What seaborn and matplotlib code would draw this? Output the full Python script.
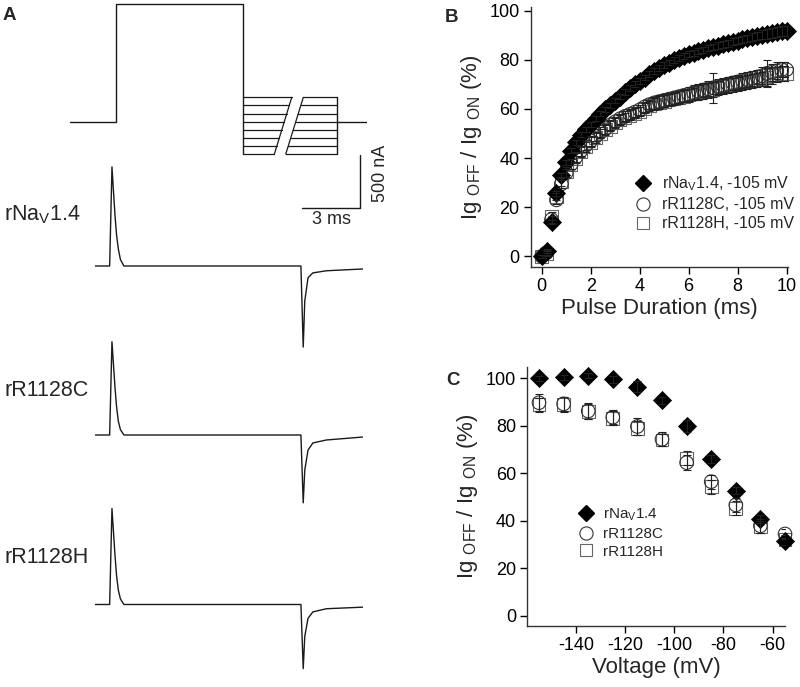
import numpy as np
import matplotlib
matplotlib.use('Agg')
import matplotlib.pyplot as plt
from matplotlib.lines import Line2D
import seaborn as sns

# ---------------- data ----------------
# panel A: voltage protocol (ms, mV)
proto_hold = -105
proto_step = 40
proto_t_on = 2.4
proto_t_off = 8.95
proto_t_end_test = 13.85
proto_t_end = 15.4
test_levels = [-75, -85, -95, -105, -115, -125, -135, -145]

# panel A: gating currents (ms, nA)
trace_t = [0, 0.76, 0.88, 0.96, 1.04, 1.12, 1.21, 1.32, 1.5, 10.68, 10.8, 10.88, 11.05, 11.3, 12.0, 13.9]
trace_wt = [0, 0, 935, 700, 470, 290, 160, 60, 0, 0, -765, -330, -110, -65, -45, -28]
trace_r1128c = [0, 0, 880, 660, 440, 265, 130, 50, 0, 0, -640, -330, -142, -75, -47, -19]
trace_r1128h = [0, 0, 905, 680, 455, 270, 135, 52, 0, 0, -605, -300, -130, -70, -40, -25]
trace_names = ['rNa$_{\\mathregular{V}}$1.4', 'rR1128C', 'rR1128H']

# panel B: Q recovery vs pulse duration
dur = [0.0, 0.2, 0.4, 0.6, 0.8, 1.0, 1.2, 1.4, 1.6, 1.8, 2.0, 2.2, 2.4, 2.6, 2.8, 3.0, 3.2, 3.4,
       3.6, 3.8, 4.0, 4.2, 4.4, 4.6, 4.8, 5.0, 5.2, 5.4, 5.6, 5.8, 6.0, 6.2, 6.4, 6.6, 6.8, 7.0,
       7.2, 7.4, 7.6, 7.8, 8.0, 8.2, 8.4, 8.6, 8.8, 9.0, 9.2, 9.4, 9.6, 9.8, 10.0]
b_wt = [0, 2.3, 14, 25.6, 33, 38.3, 43, 46.5, 49.5, 51.8, 53.8, 56, 58, 59.8, 61.5, 63.3, 65, 66.8,
        68.4, 70, 71.5, 72.8, 74.2, 75.5, 76.8, 78, 78.9, 79.8, 80.6, 81.4, 82.2, 82.8, 83.5, 84.1,
        84.7, 85.3, 85.8, 86.3, 86.8, 87.3, 87.8, 88.3, 88.8, 89.3, 89.8, 90.2, 90.6, 91, 91.3, 91.6, 91.8]
b_wt_err = [0.5, 0.8, 1, 1, 1, 1, 1, 1, 1, 1, 1, 1, 1, 1, 1, 1, 1, 1.2,
            1.2, 1.2, 1.2, 1.2, 1.2, 1.2, 1.2, 1.2, 1.2, 1.2, 1.2, 1.2, 1.2, 1.2, 1.3, 1.3,
            1.3, 1.3, 1.3, 1.4, 1.4, 1.4, 1.5, 1.5, 1.5, 1.5, 1.6, 1.8, 2, 2, 2, 2, 2]
b_r1128c = [0, 1.5, 15, 23, 29.5, 34, 37.5, 40.5, 43, 45.2, 47, 48.8, 50.5, 52, 53.5, 54.8, 56, 57,
            57.8, 58.7, 59.6, 60.8, 61.8, 62.5, 63, 63.5, 64, 64.5, 65, 65.5, 66, 66.6, 67.2, 67.7,
            68.2, 68.6, 69.1, 69.6, 70.1, 70.6, 71, 71.5, 72, 72.5, 73, 73.5, 74.5, 75, 75.5, 76, 76]
b_r1128c_err = [0.5, 1, 1.5, 1.5, 1.5, 1.5, 2, 2, 2, 2, 2, 2, 2, 2, 2, 2, 2, 2,
                2, 2, 2, 2, 2, 2.5, 2.5, 2.5, 2.5, 2.5, 2.5, 2.5, 3, 3, 3, 3, 3, 6,
                3, 3, 3, 3, 3, 3, 3, 3, 3, 3.5, 5.5, 3.5, 3.5, 3, 3]
b_r1128h = [0, 1, 16.4, 24.5, 30.5, 34.5, 37.5, 40, 42.5, 44.5, 46.5, 48.3, 50, 51.5, 53, 54.3, 55.5, 56.5,
            57.4, 58.2, 59, 60.3, 61.3, 62, 62.6, 63.2, 63.7, 64.2, 64.7, 65.2, 65.7, 66.2, 66.7, 67.2,
            67.6, 68, 68.5, 69, 69.4, 69.8, 70.2, 70.6, 71, 71.4, 71.8, 72.2, 73, 73.5, 74, 74.3, 74.5]
b_r1128h_err = [0.5, 1, 1.5, 1.5, 2, 2, 2, 2, 2, 2, 2, 2, 2, 2, 2, 2, 2, 2,
                2, 2, 2, 2, 2, 2.5, 2.5, 2.5, 2.5, 2.5, 2.5, 2.5, 2.5, 2.5, 3, 3, 3, 3,
                3, 3, 3, 3, 3, 3, 3, 3, 3, 3, 3.5, 3.5, 3, 3, 3]

# panel C: Q recovery vs voltage
volt = [-155, -145, -135, -125, -115, -105, -95, -85, -75, -65, -55]
c_wt = [100, 100.4, 101, 99.6, 96.5, 90.8, 80, 66, 52.6, 40.8, 31.5]
c_wt_err = [1, 1, 1, 1.5, 2.5, 1.5, 2.5, 1.5, 1.5, 1.5, 1.5]
c_r1128c = [89.7, 89.2, 86.2, 83.6, 79.7, 74.3, 64.5, 56.5, 46.7, 37.9, 34.5]
c_r1128c_err = [3.5, 3, 3.5, 3, 3.5, 3, 3, 3, 3, 3, 2]
c_r1128h = [88.8, 89, 86, 83.2, 79, 74, 66.3, 54.4, 45.3, 37.6, 32]
c_r1128h_err = [3, 3, 3, 3, 3, 2.5, 3, 3, 3, 2.5, 2]

series_labels_b = ['rNa$_{\\mathregular{V}}$1.4, -105 mV', 'rR1128C, -105 mV', 'rR1128H, -105 mV']
series_labels_c = ['rNa$_{\\mathregular{V}}$1.4', 'rR1128C', 'rR1128H']

# ---------------- style ----------------
sns.set_theme(style='ticks')
plt.rcParams['font.family'] = ['Liberation Sans', 'DejaVu Sans']
plt.rcParams['mathtext.fontset'] = 'custom'
plt.rcParams['mathtext.rm'] = 'Liberation Sans'
plt.rcParams['mathtext.it'] = 'Liberation Sans:italic'
plt.rcParams['mathtext.bf'] = 'Liberation Sans:bold'
plt.rcParams['axes.unicode_minus'] = False

W, H = 800, 687
fig = plt.figure(figsize=(W / 100, H / 100), dpi=100)


def px_axes(x0, y0, x1, y1):
    return fig.add_axes([x0 / W, 1 - y1 / H, (x1 - x0) / W, (y1 - y0) / H])


ink = '#1a1a1a'
diamond_kw = dict(marker='D', s=85, color='black', edgecolor='black', linewidth=0.5, zorder=4, clip_on=False)
circle_kw = dict(marker='o', s=95, facecolor='none', edgecolor='#333333', linewidth=0.8, zorder=3, clip_on=False)
square_kw = dict(marker='s', s=85, facecolor='none', edgecolor='#666666', linewidth=0.8, zorder=2, clip_on=False)
err_kw = dict(fmt='none', ecolor='#222222', elinewidth=0.8, capsize=3, capthick=0.8, zorder=5)

# ---------------- panel A: protocol ----------------
px_per_ms = 19.28
px_per_mV = 0.81
axp = px_axes(70, 0, 367, 160)
axp.set_xlim(0, 297 / px_per_ms)
axp.set_ylim(proto_hold - (160 - 121.7) / px_per_mV, proto_hold + 121.7 / px_per_mV)
axp.axis('off')
axp.plot([0, proto_t_on, proto_t_on, proto_t_off, proto_t_off],
         [proto_hold, proto_hold, proto_step, proto_step, min(test_levels)], color=ink, lw=1)
axp.plot([proto_t_end_test, proto_t_end_test], [min(test_levels), max(test_levels)], color=ink, lw=1)
axp.plot([proto_t_end_test, proto_t_end], [proto_hold, proto_hold], color=ink, lw=1)
# break marks (//) across the test-pulse family
brk_left = np.interp(test_levels, [min(test_levels), max(test_levels)], [10.6, 11.5])
brk_right = np.interp(test_levels, [min(test_levels), max(test_levels)], [11.19, 12.1])
for v, bl, br in zip(test_levels, brk_left, brk_right):
    axp.plot([proto_t_off, bl], [v, v], color=ink, lw=0.9)
    axp.plot([br, proto_t_end_test], [v, v], color=ink, lw=0.9)
axp.plot([10.6, 11.5], [min(test_levels), max(test_levels)], color=ink, lw=0.9)
axp.plot([11.19, 12.1], [min(test_levels), max(test_levels)], color=ink, lw=0.9)

# ---------------- panel A: traces ----------------
px_per_nA = 0.106
baselines_px = [266, 435, 604.5]
trace_axes = []
for base, cur in zip(baselines_px, [trace_wt, trace_r1128c, trace_r1128h]):
    ax = px_axes(95, base - 115, 363, base + 90)
    sns.lineplot(x=trace_t, y=cur, ax=ax, color=ink, lw=1.0, estimator=None, sort=False)
    ax.set_xlim(0, 268 / px_per_ms)
    ax.set_ylim(-90 / px_per_nA, 115 / px_per_nA)
    ax.axis('off')
    trace_axes.append(ax)

# scale bar: 3 ms / 500 nA
axs = trace_axes[0]
bar_t0, bar_ms, bar_nA0, bar_nA = 10.75, 3, 550, 500
axs.plot([bar_t0, bar_t0 + bar_ms, bar_t0 + bar_ms],
         [bar_nA0, bar_nA0, bar_nA0 + bar_nA], color=ink, lw=1, clip_on=False)
axs.text(bar_t0 + bar_ms / 2, bar_nA0 - 110, '3 ms', ha='center', va='center', fontsize=13)
axs.text(bar_t0 + bar_ms + 1.05, bar_nA0 + bar_nA / 2 + 70, '500 nA', rotation=90,
         ha='center', va='center', fontsize=13)

for name, y in zip(trace_names, [220, 396, 562.7]):
    fig.text(4 / W, 1 - y / H, name, fontsize=15.5, ha='left', va='baseline')

# ---------------- panel B ----------------
axb = px_axes(530.7, 7, 788, 266.7)
axb.errorbar(dur, b_r1128h, yerr=b_r1128h_err, **err_kw)
axb.errorbar(dur, b_r1128c, yerr=b_r1128c_err, **err_kw)
sns.scatterplot(x=dur, y=b_r1128h, ax=axb, **square_kw)
sns.scatterplot(x=dur, y=b_r1128c, ax=axb, **circle_kw)
axb.errorbar(dur, b_wt, yerr=b_wt_err, **err_kw)
sns.scatterplot(x=dur, y=b_wt, ax=axb, **diamond_kw)
axb.set_xlim(-0.45, 10.06)
axb.set_ylim(-4.2, 101.5)
axb.set_xticks(range(0, 11, 2))
axb.set_yticks(range(0, 101, 20))
axb.set_xlabel('Pulse Duration (ms)', fontsize=16, labelpad=2)

# ---------------- panel C ----------------
axc = px_axes(527.3, 367.3, 785, 625.7)
axc.errorbar(volt, c_r1128h, yerr=c_r1128h_err, **err_kw)
axc.errorbar(volt, c_r1128c, yerr=c_r1128c_err, **err_kw)
sns.scatterplot(x=volt, y=c_r1128h, ax=axc, **square_kw)
sns.scatterplot(x=volt, y=c_r1128c, ax=axc, **circle_kw)
axc.errorbar(volt, c_wt, yerr=c_wt_err, **err_kw)
sns.scatterplot(x=volt, y=c_wt, ax=axc, **diamond_kw)
axc.set_xlim(-159.75, -55.0)
axc.set_ylim(-4.1, 104.6)
axc.set_xticks(range(-140, -59, 20))
axc.set_yticks(range(0, 101, 20))
axc.set_xlabel('Voltage (mV)', fontsize=16, labelpad=2)

ylab = 'Ig $_{\\mathregular{OFF}}$ / Ig $_{\\mathregular{ON}}$ (%)'
for ax, labels, anchor, tpad, fs in [(axb, series_labels_b, (0.405, 0.245), 0.69, 11.5),
                                     (axc, series_labels_c, (0.197, 0.36), 0.63, 11)]:
    sns.despine(ax=ax)
    ax.set_ylabel(ylab, fontsize=16, labelpad=4)
    ax.tick_params(direction='out', length=5, width=1, labelsize=13, pad=3, colors='black')
    for sp in ax.spines.values():
        sp.set_linewidth(1)
        sp.set_color('#333333')
    handles = [
        Line2D([], [], ls='none', marker='D', ms=8.5, color='black'),
        Line2D([], [], ls='none', marker='o', ms=9.5, mfc='none', mec='#333333', mew=0.8),
        Line2D([], [], ls='none', marker='s', ms=8.9, mfc='none', mec='#666666', mew=0.8),
    ]
    ax.legend(handles, labels, loc='center left', bbox_to_anchor=anchor, frameon=False,
              fontsize=fs, handlelength=1.0, handletextpad=tpad, labelspacing=0.25,
              borderpad=0, borderaxespad=0)

# panel letters
for letter, x, y in [('A', 3, 20), ('B', 445, 21.7), ('C', 446.5, 385)]:
    fig.text(x / W, 1 - y / H, letter, fontsize=13.5, fontweight='bold', ha='left', va='baseline')

fig.savefig('out.png', dpi=100)
